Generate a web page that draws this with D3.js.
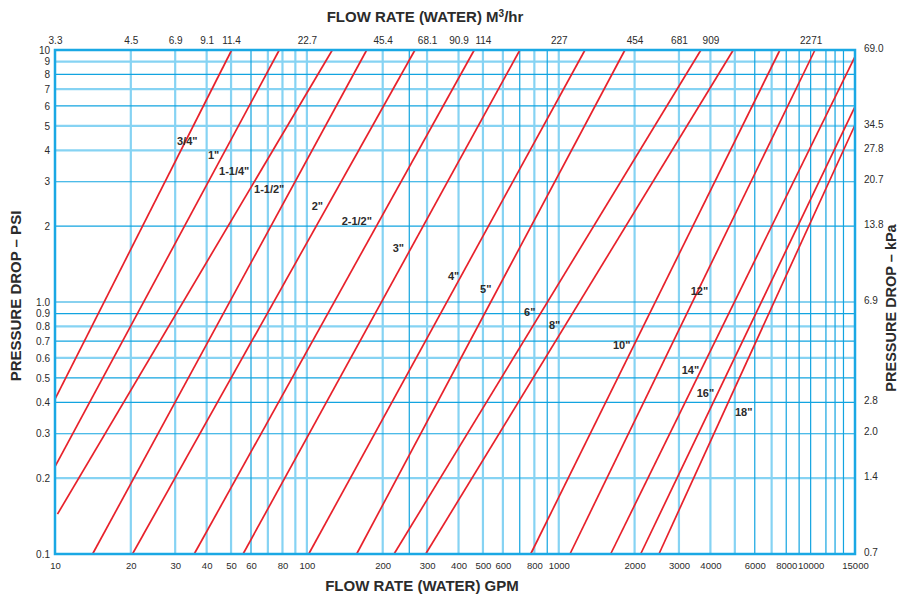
<!DOCTYPE html>
<html>
<head>
<meta charset="utf-8">
<script src="https://cdn.jsdelivr.net/npm/d3@7"></script>
<style>
  html, body { margin: 0; padding: 0; background: #fff; }
  svg { display: block; }
  text { font-family: "Liberation Sans", Arial, Helvetica, sans-serif; }
</style>
</head>
<body>
<svg id="chart" width="899" height="594"></svg>
<script>
// ---------- data ----------
const gpmTicks = [10,20,30,40,50,60,80,100,200,300,400,500,600,800,1000,2000,3000,4000,6000,8000,10000,15000];
const m3Labels = ["3.3","4.5","6.9","9.1","11.4","22.7","45.4","68.1","90.9","114","227","454","681","909","2271"];
const m3AtGpm  = [10,20,30,40,50,100,200,300,400,500,1000,2000,3000,4000,10000];
const psiTicks  = [0.1,0.2,0.3,0.4,0.5,0.6,0.7,0.8,0.9,1,2,3,4,5,6,7,8,9,10];
const psiLabels = ["0.1","0.2","0.3","0.4","0.5","0.6","0.7","0.8","0.9","1.0","2","3","4","5","6","7","8","9","10"];
const kpaLabels = ["69.0","34.5","27.8","20.7","13.8","6.9","2.8","2.0","1.4","0.7"];
const kpaAtPsi  = [10,5,4,3,2,1,0.4,0.3,0.2,0.1];

const vGridLight = [20,30,40,50,70,80,90,100,200,300,400,500,600,800,1000,2000,3000,4000,5000,7000];
const vGridDark  = [60,255,700,900,6000,8000,9000,10000,11500,12500,13500];
const hGridLight = [9,7,5,4,0.8,0.6,0.2];
const hGridDark  = [8,6,3,2,1,0.9,0.7,0.5,0.4,0.3];

const pipeSizes  = ['3/4"','1"','1-1/4"','1-1/2"','2"','2-1/2"','3"','4"','5"','6"','8"','10"','12"','14"','16"','18"'];
const startGpm   = [10,10,10.23,14.1,20.3,35.7,55.8,101.7,157.6,221.8,296.2,773.6,1108,1607,2114,2499];
const startPsi   = [0.412,0.222,0.144,0.1,0.1,0.1,0.1,0.1,0.1,0.1,0.1,0.1,0.1,0.1,0.1,0.1];
const endGpm     = [50.3,77.7,126.2,172.8,268.6,461.9,701,1271,1831,3668,4930,7553,10401,15000,15000,15000];
const endPsi     = [10,10,10,10,10,10,10,10,10,10,10,10,10,9.42,5.96,5.04];
const labelGpm   = [30.5,40.5,44.8,61.7,104.5,137.4,219,363,487,728,914,1642,3339,3075,3527,5006];
const labelPsi   = [4.33,3.83,3.32,2.80,2.40,2.10,1.63,1.27,1.12,0.915,0.81,0.675,1.10,0.537,0.436,0.364];

// ---------- chart ----------
const svg = d3.select("#chart");
const x = d3.scaleLog().domain([10, 15000]).range([55, 855]);
const y = d3.scaleLog().domain([0.1, 10]).range([554, 50]);

const LIGHT = "#86d3f3", DARK = "#12a4e0", RED = "#e8212b", TXT = "#2b2b2b";

const grid = svg.append("g");
grid.selectAll("line.vl").data(vGridLight).join("line")
  .attr("x1", d => x(d)).attr("x2", d => x(d)).attr("y1", y(10)).attr("y2", y(0.1))
  .attr("stroke", LIGHT).attr("stroke-width", 2.2);
grid.selectAll("line.hl").data(hGridLight).join("line")
  .attr("x1", x(10)).attr("x2", x(15000)).attr("y1", d => y(d)).attr("y2", d => y(d))
  .attr("stroke", LIGHT).attr("stroke-width", 2.2);
grid.selectAll("line.vd").data(vGridDark).join("line")
  .attr("x1", d => x(d)).attr("x2", d => x(d)).attr("y1", y(10)).attr("y2", y(0.1))
  .attr("stroke", DARK).attr("stroke-width", 1.2);
grid.selectAll("line.hd").data(hGridDark).join("line")
  .attr("x1", x(10)).attr("x2", x(15000)).attr("y1", d => y(d)).attr("y2", d => y(d))
  .attr("stroke", DARK).attr("stroke-width", 1.2);

// pipe lines
const pipes = pipeSizes.map((name, i) => ({
  name, x0: startGpm[i], y0: startPsi[i], x1: endGpm[i], y1: endPsi[i], lx: labelGpm[i], ly: labelPsi[i]
}));
svg.append("g").selectAll("line").data(pipes).join("line")
  .attr("x1", d => x(d.x0)).attr("y1", d => y(d.y0))
  .attr("x2", d => x(d.x1)).attr("y2", d => y(d.y1))
  .attr("stroke", RED).attr("stroke-width", 1.7);

// frame
svg.append("rect")
  .attr("x", x(10)).attr("y", y(10))
  .attr("width", x(15000) - x(10)).attr("height", y(0.1) - y(10))
  .attr("fill", "none").attr("stroke", "#1aa8e4").attr("stroke-width", 2.5);

// pipe labels
svg.append("g").selectAll("text").data(pipes).join("text")
  .attr("x", d => x(d.lx)).attr("y", d => y(d.ly))
  .attr("dy", "0.35em")
  .attr("font-size", 11).attr("font-weight", 600).attr("fill", TXT)
  .text(d => d.name);

// axes
function styleAxis(size) {
  return g => {
    g.select(".domain").remove();
    g.selectAll("text").attr("font-size", size).attr("fill", TXT)
      .attr("font-family", '"Liberation Sans", Arial, Helvetica, sans-serif');
  };
}
svg.append("g").attr("transform", `translate(0,${y(0.1)})`)
  .call(d3.axisBottom(x).tickValues(gpmTicks).tickSize(0).tickPadding(8).tickFormat(d => String(d)))
  .call(styleAxis(9.5));
svg.append("g").attr("transform", `translate(0,${y(10)})`)
  .call(d3.axisTop(x).tickValues(m3AtGpm).tickSize(0).tickPadding(6).tickFormat((d, i) => m3Labels[i]))
  .call(styleAxis(10));
svg.append("g").attr("transform", `translate(${x(10)},0)`)
  .call(d3.axisLeft(y).tickValues(psiTicks).tickSize(0).tickPadding(5).tickFormat((d, i) => psiLabels[i]))
  .call(styleAxis(10));
svg.append("g").attr("transform", `translate(${x(15000)},-2)`)
  .call(d3.axisRight(y).tickValues(kpaAtPsi).tickSize(0).tickPadding(9).tickFormat((d, i) => kpaLabels[i]))
  .call(styleAxis(10));

// titles
const topTitle = svg.append("text").attr("x", 425).attr("y", 22)
  .attr("text-anchor", "middle").attr("font-size", 15).attr("font-weight", "bold").attr("fill", TXT);
topTitle.append("tspan").text("FLOW RATE (WATER) M");
topTitle.append("tspan").attr("font-size", 10).attr("dy", -5).text("3");
topTitle.append("tspan").attr("dy", 5).text("/hr");

svg.append("text").attr("x", 422).attr("y", 591)
  .attr("text-anchor", "middle").attr("font-size", 15).attr("font-weight", "bold").attr("fill", TXT)
  .text("FLOW RATE (WATER) GPM");

svg.append("text").attr("transform", "translate(21,296) rotate(-90)")
  .attr("text-anchor", "middle").attr("font-size", 15).attr("font-weight", "bold").attr("fill", TXT)
  .text("PRESSURE DROP – PSI");

svg.append("text").attr("transform", "translate(895.5,308) rotate(-90)")
  .attr("text-anchor", "middle").attr("font-size", 14.5).attr("font-weight", "bold").attr("fill", TXT)
  .text("PRESSURE DROP – kPa");
</script>
</body>
</html>
